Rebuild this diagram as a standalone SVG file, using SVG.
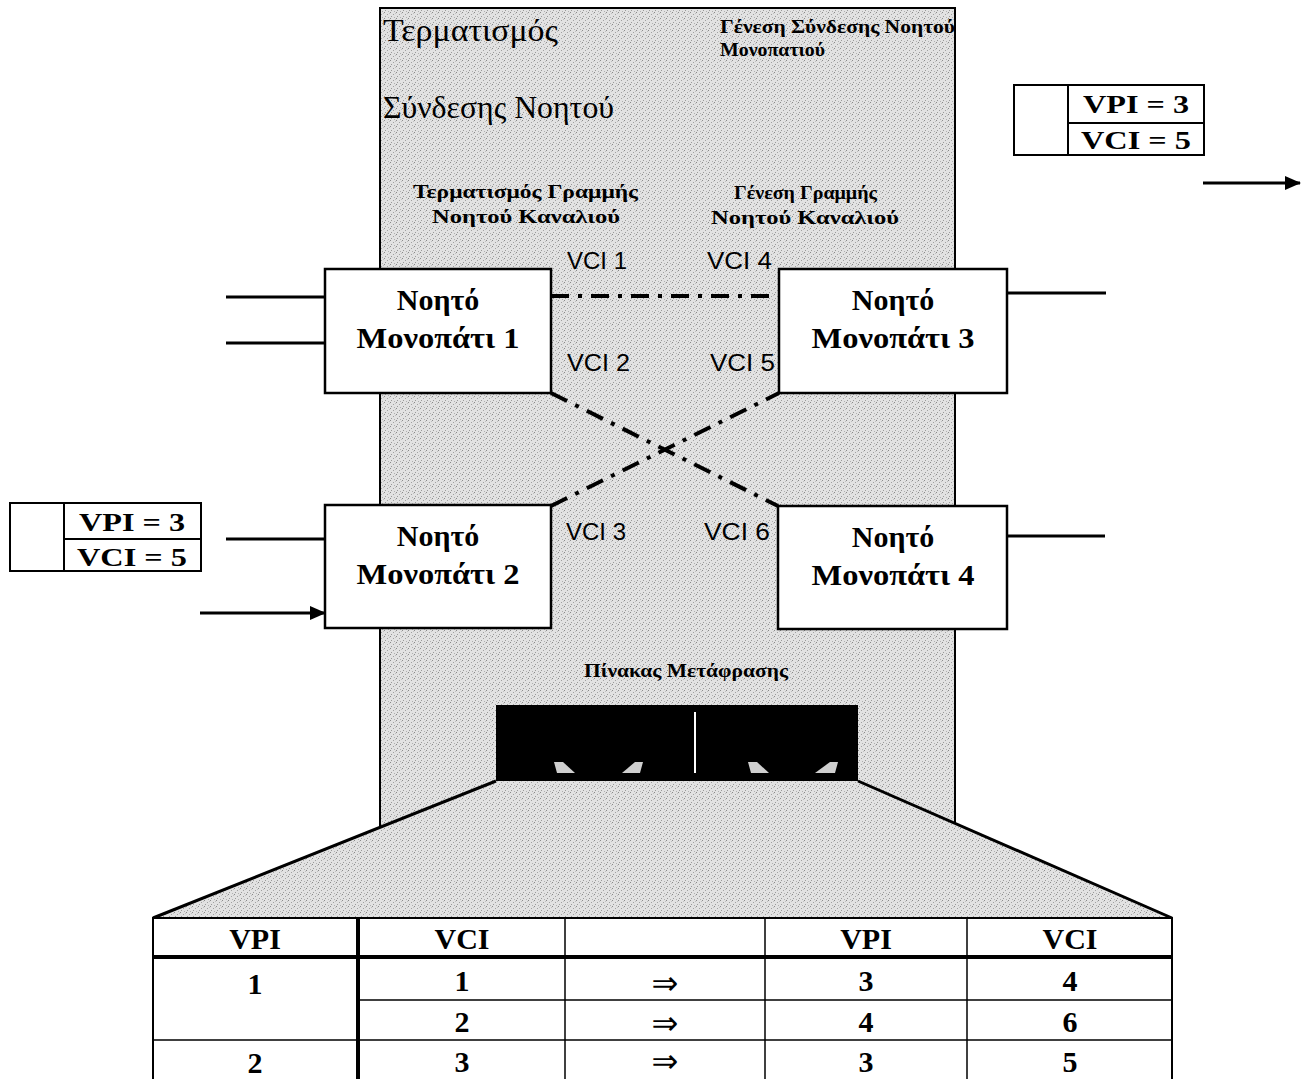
<svg xmlns="http://www.w3.org/2000/svg" width="1302" height="1079" viewBox="0 0 1302 1079">
<defs>
<pattern id="stip" width="6" height="6" patternUnits="userSpaceOnUse">
<rect width="6" height="6" fill="#e2e2e2"/>
<rect x="0" y="0" width="1" height="1" fill="#8a8a8a"/>
<rect x="3" y="2" width="1" height="1" fill="#a0a0a0"/>
<rect x="1" y="4" width="1" height="1" fill="#9a9a9a"/>
<rect x="4" y="5" width="1" height="1" fill="#b0b0b0"/>
<rect x="5" y="1" width="1" height="1" fill="#c0c0c0"/>
</pattern>
<marker id="arr" markerWidth="16" markerHeight="14" refX="15" refY="7" orient="auto" markerUnits="userSpaceOnUse" viewBox="0 0 16 14">
<path d="M0,0 L16,7 L0,14 z" fill="#000"/>
</marker>
</defs>
<style>
.box{fill:#fff;stroke:#000;stroke-width:2.5}
.ln{stroke:#000;stroke-width:3;fill:none}
.dd{stroke:#000;stroke-width:4;fill:none;stroke-dasharray:18 9 4 9}
.nt{font-family:"Liberation Serif",serif;font-weight:bold;font-size:30px;text-anchor:middle}
.vci{font-family:"Liberation Sans",sans-serif;font-size:23px}
.big{font-family:"Liberation Serif",serif;font-size:31px}
.sm{font-family:"Liberation Serif",serif;font-weight:bold;font-size:19px}
.lab{font-family:"Liberation Serif",serif;font-weight:bold;font-size:25px;text-anchor:middle}
.tb{font-family:"Liberation Serif",serif;font-weight:bold;font-size:30px;text-anchor:middle}
.ar{font-family:"DejaVu Sans",sans-serif;font-size:32px;text-anchor:middle}
.tl{stroke:#000;stroke-width:1.5}
.tk{stroke:#000;stroke-width:4}
</style>

<g id="panel">
<rect x="380" y="8" width="575" height="860" fill="url(#stip)" stroke="#000" stroke-width="2"/>
<polygon points="496,781 858,781 1172,918 153,918" fill="url(#stip)"/>
<line x1="496" y1="781" x2="153" y2="918" class="ln"/>
<line x1="858" y1="781" x2="1172" y2="918" class="ln"/>
<text x="383" y="41" class="big" textLength="175" lengthAdjust="spacingAndGlyphs">Τερματισμός</text>
<text x="383" y="118" class="big" textLength="231" lengthAdjust="spacingAndGlyphs">Σύνδεσης Νοητού</text>
<text x="720" y="33" class="sm" textLength="235" lengthAdjust="spacingAndGlyphs">Γένεση Σύνδεσης Νοητού</text>
<text x="720" y="56" class="sm" textLength="105" lengthAdjust="spacingAndGlyphs">Μονοπατιού</text>
<text x="413" y="198" class="sm" textLength="225" lengthAdjust="spacingAndGlyphs">Τερματισμός Γραμμής</text>
<text x="432" y="223" class="sm" textLength="188" lengthAdjust="spacingAndGlyphs">Νοητού Καναλιού</text>
<text x="734" y="199" class="sm" textLength="143" lengthAdjust="spacingAndGlyphs">Γένεση Γραμμής</text>
<text x="711" y="224" class="sm" textLength="188" lengthAdjust="spacingAndGlyphs">Νοητού Καναλιού</text>
<text x="584" y="677" class="sm" textLength="204" lengthAdjust="spacingAndGlyphs">Πίνακας Μετάφρασης</text>
</g>

<g id="translation-table-icon">
<rect x="496" y="705" width="362" height="76" fill="#000"/>
<line x1="695" y1="712" x2="695" y2="773" stroke="#fff" stroke-width="2"/>
<polygon points="554,762 563,762 575,773 557,773" fill="#cfcfcf"/>
<polygon points="635,762 643,762 640,773 622,773" fill="#cfcfcf"/>
<polygon points="748,762 757,762 769,773 751,773" fill="#cfcfcf"/>
<polygon points="830,762 838,762 835,773 815,773" fill="#cfcfcf"/>
</g>

<g id="connectors">
<line x1="226" y1="297" x2="325" y2="297" class="ln"/>
<line x1="226" y1="343" x2="325" y2="343" class="ln"/>
<line x1="226" y1="539" x2="325" y2="539" class="ln"/>
<line x1="200" y1="613" x2="325" y2="613" class="ln" marker-end="url(#arr)"/>
<line x1="1007" y1="293" x2="1106" y2="293" class="ln"/>
<line x1="1007" y1="536" x2="1105" y2="536" class="ln"/>
<line x1="1203" y1="183" x2="1300" y2="183" class="ln" marker-end="url(#arr)"/>
<line x1="551" y1="296" x2="779" y2="296" class="dd"/>
<line x1="551" y1="393" x2="778" y2="506" class="dd"/>
<line x1="551" y1="506" x2="779" y2="393" class="dd"/>
<text x="567" y="269" class="vci" textLength="60" lengthAdjust="spacingAndGlyphs">VCI 1</text>
<text x="707" y="269" class="vci" textLength="65" lengthAdjust="spacingAndGlyphs">VCI 4</text>
<text x="567" y="371" class="vci" textLength="63" lengthAdjust="spacingAndGlyphs">VCI 2</text>
<text x="710" y="371" class="vci" textLength="65" lengthAdjust="spacingAndGlyphs">VCI 5</text>
<text x="566" y="540" class="vci" textLength="60" lengthAdjust="spacingAndGlyphs">VCI 3</text>
<text x="704" y="540" class="vci" textLength="66" lengthAdjust="spacingAndGlyphs">VCI 6</text>
</g>

<g id="node1">
<rect x="325" y="269" width="226" height="124" class="box"/>
<text x="438" y="310" class="nt">Νοητό</text>
<text x="438" y="348" class="nt" textLength="163" lengthAdjust="spacingAndGlyphs">Μονοπάτι 1</text>
</g>
<g id="node2">
<rect x="325" y="505" width="226" height="123" class="box"/>
<text x="438" y="546" class="nt">Νοητό</text>
<text x="438" y="584" class="nt" textLength="163" lengthAdjust="spacingAndGlyphs">Μονοπάτι 2</text>
</g>
<g id="node3">
<rect x="779" y="269" width="228" height="124" class="box"/>
<text x="893" y="310" class="nt">Νοητό</text>
<text x="893" y="348" class="nt" textLength="163" lengthAdjust="spacingAndGlyphs">Μονοπάτι 3</text>
</g>
<g id="node4">
<rect x="778" y="506" width="229" height="123" class="box"/>
<text x="893" y="547" class="nt">Νοητό</text>
<text x="893" y="585" class="nt" textLength="163" lengthAdjust="spacingAndGlyphs">Μονοπάτι 4</text>
</g>

<g id="cell-label-right">
<rect x="1014" y="85" width="190" height="70" fill="#fff" stroke="#000" stroke-width="2"/>
<line x1="1068" y1="85" x2="1068" y2="155" stroke="#000" stroke-width="2"/>
<line x1="1068" y1="123" x2="1204" y2="123" stroke="#000" stroke-width="2"/>
<text x="1136" y="113" class="lab" textLength="106" lengthAdjust="spacingAndGlyphs">VPI = 3</text>
<text x="1136" y="149" class="lab" textLength="110" lengthAdjust="spacingAndGlyphs">VCI = 5</text>
</g>
<g id="cell-label-left">
<rect x="10" y="503" width="191" height="68" fill="#fff" stroke="#000" stroke-width="2"/>
<line x1="64" y1="503" x2="64" y2="571" stroke="#000" stroke-width="2"/>
<line x1="64" y1="539" x2="201" y2="539" stroke="#000" stroke-width="2"/>
<text x="132" y="531" class="lab" textLength="106" lengthAdjust="spacingAndGlyphs">VPI = 3</text>
<text x="132" y="566" class="lab" textLength="110" lengthAdjust="spacingAndGlyphs">VCI = 5</text>
</g>

<g id="table">
<rect x="153" y="918" width="1019" height="170" fill="#fff" stroke="#000" stroke-width="2"/>
<line x1="153" y1="957" x2="1172" y2="957" class="tk"/>
<line x1="358" y1="918" x2="358" y2="1079" class="tk"/>
<line x1="565" y1="918" x2="565" y2="1079" class="tl"/>
<line x1="765" y1="918" x2="765" y2="1079" class="tl"/>
<line x1="967" y1="918" x2="967" y2="1079" class="tl"/>
<line x1="358" y1="1000" x2="1172" y2="1000" class="tl"/>
<line x1="153" y1="1040" x2="1172" y2="1040" class="tl"/>
<text x="255" y="949" class="tb">VPI</text>
<text x="462" y="949" class="tb">VCI</text>
<text x="866" y="949" class="tb">VPI</text>
<text x="1070" y="949" class="tb">VCI</text>
<text x="255" y="994" class="tb">1</text>
<text x="462" y="991" class="tb">1</text>
<text x="665" y="994" class="ar">⇒</text>
<text x="866" y="991" class="tb">3</text>
<text x="1070" y="991" class="tb">4</text>
<text x="462" y="1032" class="tb">2</text>
<text x="665" y="1034" class="ar">⇒</text>
<text x="866" y="1032" class="tb">4</text>
<text x="1070" y="1032" class="tb">6</text>
<text x="255" y="1073" class="tb">2</text>
<text x="462" y="1072" class="tb">3</text>
<text x="665" y="1072" class="ar">⇒</text>
<text x="866" y="1072" class="tb">3</text>
<text x="1070" y="1072" class="tb">5</text>
</g>
</svg>
